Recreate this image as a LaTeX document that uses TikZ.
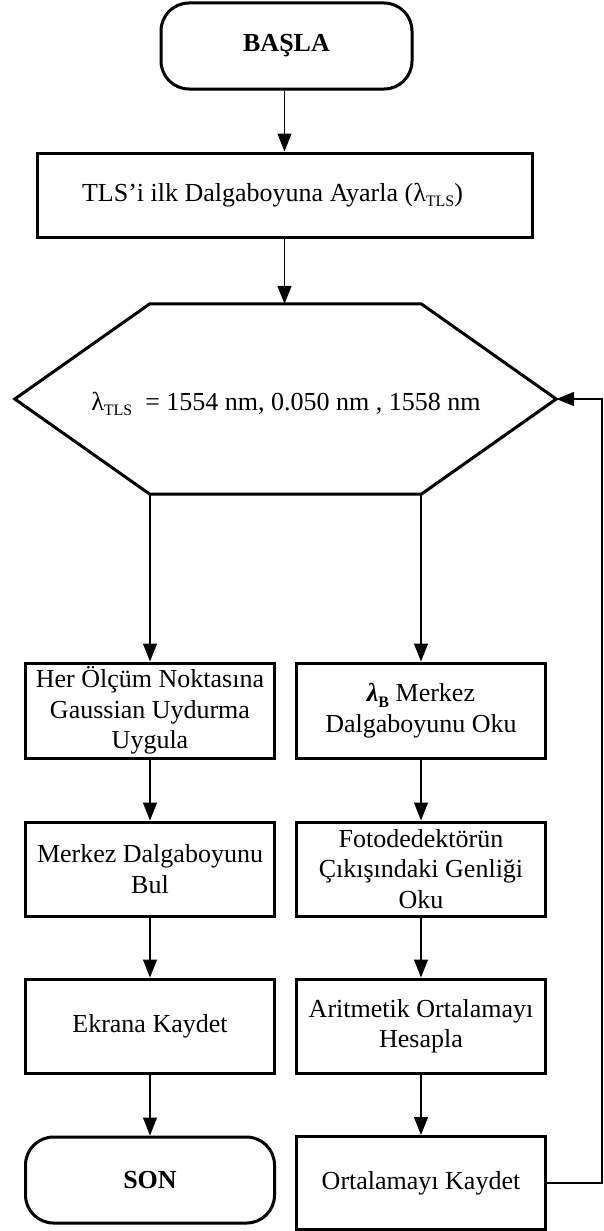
\documentclass[tikz,border=0pt]{standalone}
\usepackage{fontspec}
\setmainfont{Liberation Serif}
\usetikzlibrary{arrows.meta,shadows,calc}
\newcommand\lsub[1]{\raisebox{-0.22em}{\fontsize{16}{16}\selectfont #1}}
\begin{document}
\begin{tikzpicture}[x=1pt,y=-1pt,
  font=\fontsize{26}{30.5}\selectfont,
  shade/.style={drop shadow={shadow xshift=1.5pt,shadow yshift=-1.5pt,fill=blue!35!white,opacity=0.35}},
  boxstyle/.style={draw,line width=3pt,fill=white,align=center,inner sep=0pt,
    minimum width=249pt,minimum height=94pt,shade},
  termstyle/.style={boxstyle,rounded corners=28pt,font=\fontsize{26}{30.5}\selectfont\bfseries},
  conn/.style={line width=1.4pt,-{Triangle[length=18pt,width=14pt]}},
  line/.style={line width=1.4pt}]
\useasboundingbox (0,0) rectangle (603,1231);
% nodes
\node[termstyle,minimum width=251pt,minimum height=86pt] (start) at (286.5,46) {BAŞLA};
\node[boxstyle,minimum width=495pt,minimum height=84pt] (tls) at (284.5,195) {TLS’i ilk Dalgaboyuna Ayarla (λ\lsub{TLS})\hspace*{24pt}};
\node[minimum width=541pt,minimum height=190pt,inner sep=0pt] (hex) at (285.5,399) {};
\draw[line width=3pt,fill=white,shade,line join=miter]
  (hex.west) -- ([xshift=135pt]hex.north west) -- ([xshift=-135pt]hex.north east)
  -- (hex.east) -- ([xshift=-135pt]hex.south east) -- ([xshift=135pt]hex.south west) -- cycle;
\node (hextext) at (286,404) {λ\lsub{TLS}\ \ = 1554 nm, 0.050 nm , 1558 nm};
\node[boxstyle,minimum height=95pt] (b1) at (150,710.5) {Her Ölçüm Noktasına\\Gaussian Uydurma\\Uygula};
\node[boxstyle] (b2) at (150,869) {Merkez Dalgaboyunu\\Bul};
\node[boxstyle] (b3) at (150,1026) {Ekrana Kaydet};
\node[termstyle,minimum width=249pt,minimum height=86pt] (son) at (150,1180) {SON};
\node[boxstyle,minimum height=95pt] (r1) at (421,710.5) {\textbf{\textit{λ}\lsub{B}} Merkez\\Dalgaboyunu Oku};
\node[boxstyle] (r2) at (421,869) {Fotodedektörün\\Çıkışındaki Genliği\\Oku};
\node[boxstyle] (r3) at (421,1026) {Aritmetik Ortalamayı\\Hesapla};
\node[boxstyle,minimum height=93pt] (r4) at (421,1183) {Ortalamayı Kaydet};
\coordinate (fb) at (602,1183);
% connectors
\draw[conn] (tls.north |- start.south) -- (tls.north);
\draw[conn] (tls.south) -- (tls.south |- hex.north);
\draw[conn] (b1.north |- hex.south) -- (b1.north);
\draw[conn] (r1.north |- hex.south) -- (r1.north);
\draw[conn] (b1) -- (b2);
\draw[conn] (b2) -- (b3);
\draw[conn] (b3) -- (son);
\draw[conn] (r1) -- (r2);
\draw[conn] (r2) -- (r3);
\draw[conn] (r3) -- (r4);
\draw[conn] (r4.east) -- (fb) |- (hex.east);
\end{tikzpicture}
\end{document}
